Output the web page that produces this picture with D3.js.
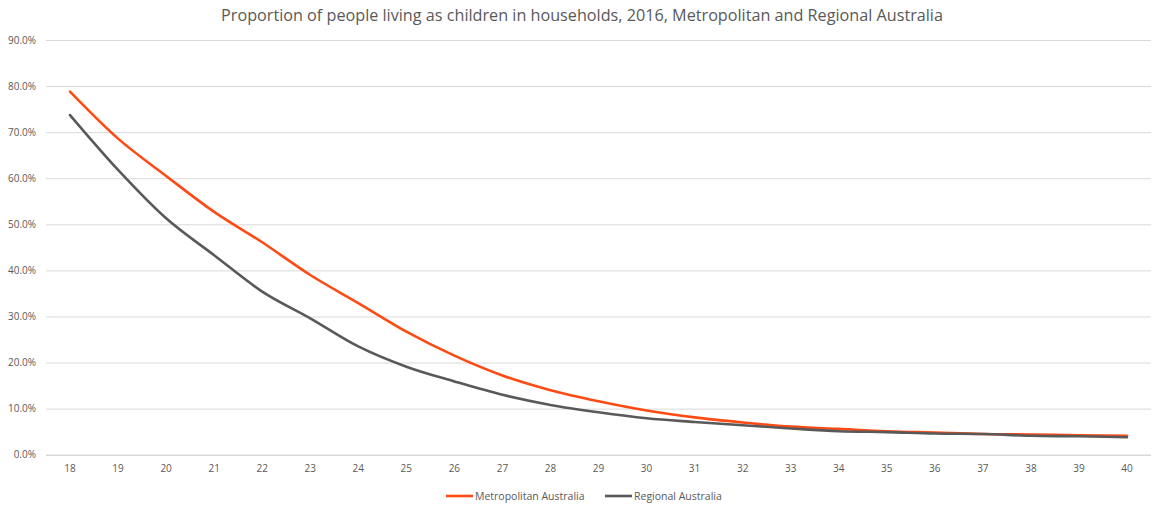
<!DOCTYPE html>
<html><head><meta charset="utf-8">
<script src="https://cdn.jsdelivr.net/npm/d3@7"></script>
<style>body{margin:0;background:#fff;} text{font-family:"Open Sans",sans-serif;}</style>
</head><body><svg id="c" width="1160" height="507"></svg>
<script>
const ages = [18,19,20,21,22,23,24,25,26,27,28,29,30,31,32,33,34,35,36,37,38,39,40];
const metro = [78.8,68.6,60.5,52.7,46.1,39.0,32.9,26.7,21.5,17.2,14.0,11.6,9.6,8.1,7.0,6.1,5.6,5.1,4.8,4.5,4.4,4.2,4.1];
const regional = [73.7,61.8,51.3,43.3,35.4,29.6,23.5,19.1,15.9,13.0,10.8,9.2,7.9,7.1,6.4,5.7,5.1,4.9,4.6,4.5,4.1,4.0,3.8];
const yTicks = [0,10,20,30,40,50,60,70,80,90];
const seriesNames = ["Metropolitan Australia","Regional Australia"];
const colors = ["#FF4A14","#595959"];
const title = "Proportion of people living as children in households, 2016, Metropolitan and Regional Australia";

const svg = d3.select("#c");
const mLeft = 46, mRight = 1151, mTop = 40, mBottom = 454.7;
const x = d3.scaleBand().domain(ages).range([mLeft, mRight]);
const y = d3.scaleLinear().domain([0,90]).range([mBottom, mTop]);

svg.append("text").attr("x", 582).attr("y", 21).attr("text-anchor","middle")
  .attr("font-size", 16.2).attr("fill","#595959").text(title);

const yAxis = d3.axisLeft(y).tickValues(yTicks).tickSize(-(mRight-mLeft)).tickFormat(d => d.toFixed(1)+"%");
const gy = svg.append("g").attr("transform", `translate(${mLeft},0)`).call(yAxis);
gy.select(".domain").remove();
gy.selectAll(".tick line").attr("stroke","#D9D9D9").attr("stroke-width",1);
gy.selectAll(".tick text").attr("font-size",10).attr("fill","#595959").attr("x",-10);
gy.selectAll(".tick").filter(d => d===0).select("line").attr("stroke","#D9D9D9").attr("stroke-width",1.5);

const xAxis = d3.axisBottom(x).tickSize(0);
const gx = svg.append("g").attr("transform", `translate(0,${mBottom})`).call(xAxis);
gx.select(".domain").remove();
gx.selectAll(".tick text").attr("font-size",10).attr("fill","#595959").attr("dy","0").attr("y",17);

const cx = d => x(d) + x.bandwidth()/2;
[metro, regional].forEach((s,i) => {
  const line = d3.line().x((d,j) => cx(ages[j])).y(d => y(d)).curve(d3.curveMonotoneX);
  svg.append("path").datum(s).attr("d", line).attr("fill","none")
    .attr("stroke", colors[i]).attr("stroke-width", 2.6).attr("stroke-linecap","round");
});

const legX = [446, 605];
seriesNames.forEach((n,i) => {
  const g = svg.append("g").attr("transform", `translate(${legX[i]},496)`);
  g.append("line").attr("x1",0).attr("x2",27).attr("y1",0).attr("y2",0).attr("stroke",colors[i]).attr("stroke-width",2.6);
  g.append("text").attr("x",29).attr("y",3.6).attr("font-size",10.5).attr("fill","#595959").text(n);
});
</script></body></html>
